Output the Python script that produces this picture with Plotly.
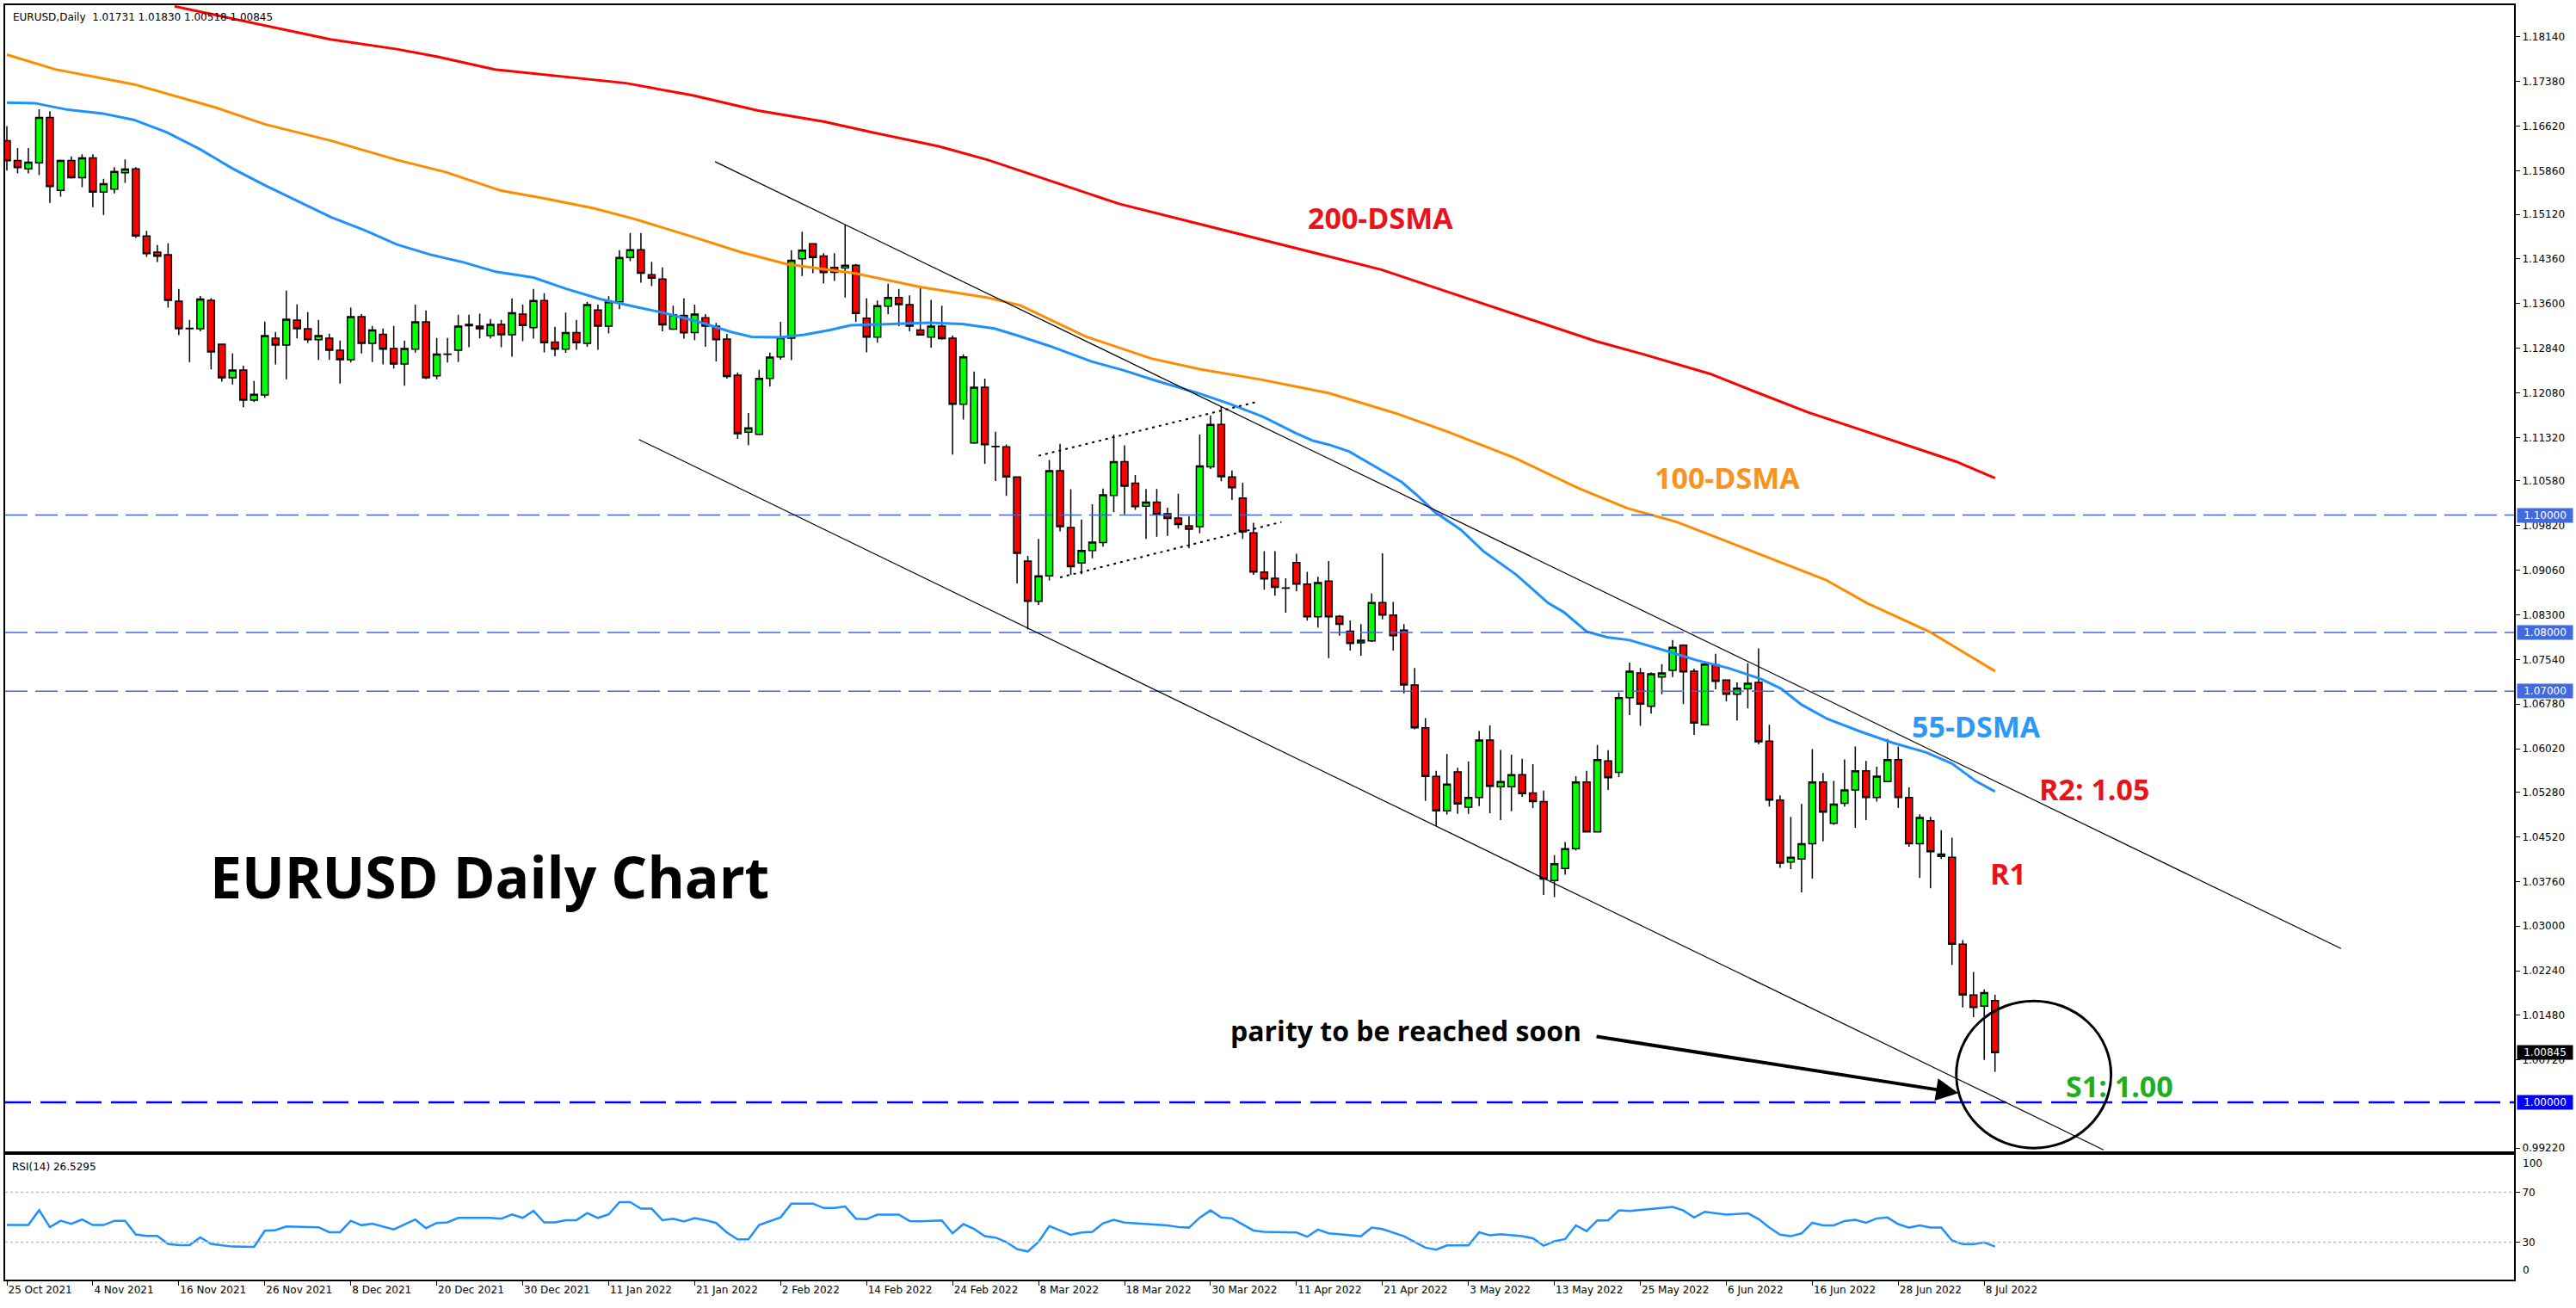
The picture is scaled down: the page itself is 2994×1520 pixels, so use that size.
import plotly.graph_objects as go

# ---------------- data ----------------
opens = [1.16373, 1.16037, 1.15895, 1.15998, 1.16769, 1.15529, 1.16037, 1.15744, 1.16081, 1.15500,
         1.15549, 1.15827, 1.15895, 1.14753, 1.14475, 1.14431, 1.13640, 1.13172, 1.13172, 1.13655,
         1.12908, 1.12337, 1.12469, 1.11956, 1.12044, 1.13011, 1.12893, 1.13318, 1.13172, 1.12986,
         1.13011, 1.12806, 1.12645, 1.13377, 1.12923, 1.13079, 1.12835, 1.12571, 1.12825, 1.13289,
         1.12371, 1.12737, 1.12806, 1.13225, 1.13216, 1.13054, 1.13245, 1.13069, 1.13420, 1.13190,
         1.13654, 1.12946, 1.12824, 1.13107, 1.12922, 1.13493, 1.13215, 1.13630, 1.14386, 1.14518,
         1.14093, 1.14020, 1.13166, 1.13400, 1.13107, 1.13361, 1.13215, 1.12995, 1.12380, 1.11409,
         1.11374, 1.12326, 1.12692, 1.13010, 1.14362, 1.14620, 1.14411, 1.14215, 1.14206, 1.14254,
         1.13351, 1.13029, 1.13556, 1.13703, 1.13581, 1.13151, 1.13029, 1.13215, 1.13010, 1.11887,
         1.11228, 1.12175, 1.11165, 1.11161, 1.10649, 1.09216, 1.08531, 1.08965, 1.10753, 1.09786,
         1.09185, 1.09394, 1.09530, 1.10335, 1.10910, 1.10544, 1.10152, 1.10220, 1.10021, 1.09948,
         1.09817, 1.09802, 1.10821, 1.11543, 1.10649, 1.10288, 1.09697, 1.09028, 1.08922, 1.08756,
         1.09190, 1.08824, 1.08269, 1.08876, 1.08274, 1.08023, 1.07825, 1.07856, 1.08510, 1.08295,
         1.08039, 1.07108, 1.06376, 1.05550, 1.04964, 1.05628, 1.05027, 1.05189, 1.06167, 1.05372,
         1.05374, 1.05580, 1.05266, 1.05119, 1.03776, 1.03982, 1.04318, 1.05455, 1.04605, 1.05813,
         1.05618, 1.06891, 1.07313, 1.06744, 1.07243, 1.07357, 1.07785, 1.07340, 1.06430, 1.07449,
         1.07189, 1.06950, 1.07042, 1.07151, 1.06149, 1.05146, 1.04090, 1.04144, 1.04404, 1.05455,
         1.04751, 1.05092, 1.05320, 1.05645, 1.05190, 1.05461, 1.05834, 1.05190, 1.04404, 1.04794,
         1.04188, 1.04171, 1.02693, 1.01826, 1.01636, 1.01731]

highs = [1.16622, 1.16251, 1.16251, 1.16910, 1.16876, 1.16051, 1.16105, 1.16144, 1.16144, 1.15724,
         1.15924, 1.16056, 1.15924, 1.14841, 1.14597, 1.14626, 1.13850, 1.13323, 1.13728, 1.13694,
         1.12908, 1.12752, 1.12542, 1.12283, 1.13294, 1.13118, 1.13821, 1.13587, 1.13455, 1.13323,
         1.13089, 1.12971, 1.13533, 1.13421, 1.13220, 1.13177, 1.13220, 1.12971, 1.13582, 1.13484,
         1.13015, 1.13015, 1.13411, 1.13411, 1.13430, 1.13337, 1.13323, 1.13689, 1.13581, 1.13849,
         1.13776, 1.13205, 1.13449, 1.13322, 1.13630, 1.13581, 1.13727, 1.14508, 1.14801, 1.14801,
         1.14313, 1.14215, 1.13566, 1.13688, 1.13581, 1.13420, 1.13273, 1.13083, 1.12424, 1.11736,
         1.12473, 1.12766, 1.13288, 1.14508, 1.14825, 1.14630, 1.14459, 1.14459, 1.14947, 1.14274,
         1.13688, 1.13654, 1.13937, 1.13849, 1.13742, 1.13898, 1.13664, 1.13566, 1.13054, 1.12736,
         1.12443, 1.12321, 1.11418, 1.11203, 1.10660, 1.09305, 1.09592, 1.10937, 1.11214, 1.10440,
         1.09922, 1.10183, 1.10450, 1.11371, 1.11188, 1.10680, 1.10445, 1.10445, 1.10126, 1.10361,
         1.09979, 1.11371, 1.11695, 1.11852, 1.10759, 1.10550, 1.09870, 1.09383, 1.09383, 1.08922,
         1.09341, 1.09033, 1.08949, 1.09216, 1.08295, 1.08207, 1.08144, 1.08667, 1.09347, 1.08520,
         1.08144, 1.07396, 1.06543, 1.05644, 1.05931, 1.05696, 1.05801, 1.06324, 1.06418, 1.06000,
         1.05921, 1.05851, 1.05759, 1.05309, 1.04209, 1.04431, 1.05553, 1.05645, 1.06084, 1.05997,
         1.06977, 1.07487, 1.07395, 1.07324, 1.07460, 1.07871, 1.07800, 1.07384, 1.07476, 1.07638,
         1.07200, 1.07151, 1.07476, 1.07730, 1.06430, 1.05228, 1.04860, 1.05081, 1.06013, 1.05607,
         1.05472, 1.05840, 1.06057, 1.05813, 1.05715, 1.06187, 1.06057, 1.05363, 1.04903, 1.04860,
         1.04632, 1.04507, 1.02763, 1.02221, 1.01923, 1.01830]

lows = [1.15866, 1.15817, 1.15817, 1.15788, 1.15314, 1.15422, 1.15729, 1.15583, 1.15241, 1.15109,
        1.15475, 1.15656, 1.14719, 1.14397, 1.14309, 1.13533, 1.13064, 1.12605, 1.13128, 1.12479,
        1.12273, 1.12225, 1.11834, 1.11922, 1.11995, 1.12566, 1.12313, 1.13006, 1.12932, 1.12640,
        1.12640, 1.12239, 1.12596, 1.12752, 1.12605, 1.12566, 1.12493, 1.12200, 1.12766, 1.12317,
        1.12313, 1.12596, 1.12605, 1.12859, 1.13006, 1.13006, 1.12859, 1.12698, 1.12961, 1.13005,
        1.12771, 1.12702, 1.12761, 1.12814, 1.12863, 1.12814, 1.13093, 1.13507, 1.14323, 1.13957,
        1.13898, 1.13127, 1.13150, 1.13005, 1.12980, 1.12863, 1.12614, 1.12321, 1.11296, 1.11189,
        1.11360, 1.12190, 1.12644, 1.12639, 1.14069, 1.14118, 1.13947, 1.13986, 1.13703, 1.13288,
        1.12771, 1.12936, 1.13420, 1.13215, 1.13127, 1.13058, 1.12849, 1.12985, 1.11028, 1.11628,
        1.11213, 1.10872, 1.10580, 1.10325, 1.08834, 1.08050, 1.08468, 1.08886, 1.09723, 1.08980,
        1.08991, 1.09263, 1.09462, 1.10047, 1.10011, 1.10089, 1.09592, 1.09629, 1.09645, 1.09770,
        1.09436, 1.09687, 1.10785, 1.10576, 1.10257, 1.09592, 1.08980, 1.08730, 1.08625, 1.08337,
        1.08703, 1.08201, 1.08086, 1.07563, 1.07945, 1.07694, 1.07605, 1.07840, 1.08222, 1.07694,
        1.06962, 1.06350, 1.05131, 1.04702, 1.04901, 1.04912, 1.04912, 1.05042, 1.04922, 1.04807,
        1.04957, 1.05200, 1.05011, 1.03532, 1.03494, 1.03874, 1.04291, 1.04594, 1.04594, 1.05320,
        1.05537, 1.06593, 1.06409, 1.06620, 1.06950, 1.07243, 1.06782, 1.06257, 1.06420, 1.07032,
        1.06826, 1.06501, 1.06707, 1.06094, 1.05038, 1.03993, 1.03971, 1.03576, 1.03808, 1.04442,
        1.04724, 1.05038, 1.04675, 1.04805, 1.05119, 1.05450, 1.05011, 1.04350, 1.03819, 1.03646,
        1.04144, 1.02341, 1.01615, 1.01452, 1.00721, 1.00518]

closes = [1.16032, 1.15915, 1.16007, 1.16769, 1.15593, 1.16037, 1.15744, 1.16081, 1.15500, 1.15641,
          1.15851, 1.15890, 1.14753, 1.14450, 1.14407, 1.13655, 1.13172, 1.13180, 1.13679, 1.12776,
          1.12337, 1.12469, 1.11956, 1.12054, 1.13054, 1.12893, 1.13333, 1.13172, 1.12986, 1.13054,
          1.12806, 1.12645, 1.13377, 1.12923, 1.13152, 1.12825, 1.12571, 1.12835, 1.13289, 1.12337,
          1.12742, 1.12742, 1.13216, 1.13245, 1.13172, 1.13245, 1.13069, 1.13445, 1.13229, 1.13654,
          1.12936, 1.12824, 1.13107, 1.12936, 1.13581, 1.13215, 1.13630, 1.14386, 1.14518, 1.14118,
          1.14035, 1.13239, 1.13410, 1.13102, 1.13420, 1.13215, 1.12985, 1.12360, 1.11384, 1.11482,
          1.12326, 1.12688, 1.13019, 1.14337, 1.14508, 1.14386, 1.14127, 1.14132, 1.14254, 1.13434,
          1.13029, 1.13566, 1.13703, 1.13581, 1.13215, 1.13068, 1.13215, 1.13005, 1.11887, 1.12692,
          1.12175, 1.11199, 1.11170, 1.10649, 1.09347, 1.08531, 1.08965, 1.10753, 1.09802, 1.09122,
          1.09394, 1.09540, 1.10346, 1.10910, 1.10492, 1.10142, 1.10220, 1.10011, 1.09943, 1.09838,
          1.09760, 1.10837, 1.11543, 1.10654, 1.10466, 1.09713, 1.09028, 1.08913, 1.08771, 1.08760,
          1.08824, 1.08269, 1.08850, 1.08269, 1.08139, 1.07814, 1.07867, 1.08510, 1.08295, 1.07945,
          1.07108, 1.06376, 1.05550, 1.04964, 1.05419, 1.05079, 1.05189, 1.06167, 1.05382, 1.05461,
          1.05580, 1.05255, 1.05119, 1.03803, 1.04063, 1.04318, 1.05455, 1.04605, 1.05834, 1.05526,
          1.06891, 1.07340, 1.06782, 1.07297, 1.07313, 1.07747, 1.07330, 1.06457, 1.07460, 1.07167,
          1.06950, 1.07053, 1.07135, 1.06138, 1.05146, 1.04074, 1.04171, 1.04404, 1.05455, 1.04941,
          1.05076, 1.05320, 1.05645, 1.05190, 1.05553, 1.05834, 1.05190, 1.04404, 1.04849, 1.04269,
          1.04226, 1.02693, 1.01826, 1.01615, 1.01869, 1.00845]

# moving averages: (bar number, value) vertices
ma200_bar = [15.6, 24.0, 30.1, 36.3, 40.1, 45.4, 53.1, 57.6, 63.8, 69.9, 76.0, 80.6, 86.7, 91.3,
             97.4, 103.5, 109.6, 115.7, 121.8, 127.9, 134.0, 138.6, 143.2, 147.8, 152.4, 158.5,
             163.0, 167.6, 172.2, 176.8, 181.4, 185]
ma200_val = [1.18662, 1.18335, 1.18101, 1.17933, 1.17802, 1.17588, 1.17447, 1.17354, 1.17148,
             1.16887, 1.16700, 1.16513, 1.16280, 1.16046, 1.15673, 1.15299, 1.15019, 1.14739,
             1.14459, 1.14178, 1.13805, 1.13525, 1.13244, 1.12964, 1.12731, 1.12404, 1.12077,
             1.11750, 1.11470, 1.11190, 1.10909, 1.10629]

ma100_bar = [0, 4.5, 11.8, 19.5, 24.0, 30.2, 36.3, 40.8, 46.0, 50.0, 54.6, 58.3, 63.8, 68.3, 72.6,
             79.0, 85.1, 91.3, 94.3, 100.4, 106.5, 111.1, 116.6, 123.0, 129.1, 134.0, 140.4,
             146.2, 150.8, 155.4, 160.0, 164.6, 169.2, 173.1, 178.9, 185]
ma100_val = [1.17840, 1.17588, 1.17335, 1.16934, 1.16654, 1.16373, 1.16046, 1.15841, 1.15523,
             1.15393, 1.15224, 1.15047, 1.14739, 1.14477, 1.14272, 1.14113, 1.13880, 1.13700,
             1.13571, 1.13039, 1.12665, 1.12479, 1.12310, 1.12077, 1.11741, 1.11423, 1.10965,
             1.10461, 1.10115, 1.09882, 1.09555, 1.09228, 1.08901, 1.08500, 1.08014, 1.07342]

ma55_bar = [0, 2.6, 5.7, 8.8, 11.8, 14.9, 18.0, 21.0, 24.1, 27.1, 30.2, 33.3, 36.3, 39.4, 42.5,
            45.5, 49.0, 52.1, 55.2, 58.2, 61.3, 64.4, 67.4, 69.3, 72.0, 74.2, 76.6, 78.5, 82.7,
            85.8, 88.9, 91.9, 94.0, 97.0, 101.0, 104.0, 106.5, 110.8, 113.8, 116.9, 119.9, 121.5,
            123.0, 124.9, 127.6, 129.8, 131.3, 132.8, 135.3, 137.4, 140.4, 143.4, 144.9, 147.0,
            148.9, 151.0, 154.1, 157.2, 160.2, 163.3, 165.1, 167.0, 169.4, 172.5, 175.5, 178.6,
            181.0, 183.2, 185.0]
ma55_val = [1.17023, 1.17013, 1.16900, 1.16841, 1.16730, 1.16515, 1.16226, 1.15900, 1.15607,
            1.15343, 1.15069, 1.14849, 1.14607, 1.14435, 1.14303, 1.14142, 1.14044, 1.13849,
            1.13678, 1.13557, 1.13435, 1.13289, 1.13117, 1.13034, 1.13025, 1.13069, 1.13151,
            1.13230, 1.13254, 1.13274, 1.13254, 1.13176, 1.13059, 1.12880, 1.12610, 1.12460,
            1.12312, 1.12078, 1.11893, 1.11673, 1.11397, 1.11267, 1.11199, 1.11082, 1.10795,
            1.10560, 1.10325, 1.10063, 1.09749, 1.09383, 1.08991, 1.08505, 1.08343, 1.08017,
            1.07920, 1.07870, 1.07703, 1.07529, 1.07394, 1.07204, 1.07042, 1.06771, 1.06528,
            1.06311, 1.06121, 1.05958, 1.05769, 1.05471, 1.05292]

rsi_bar = [0, 2, 3, 4, 5, 6, 7, 8, 9, 10,
           11, 12, 13, 14, 15, 16, 17, 18, 19, 20,
           21, 23, 24, 25, 26, 29, 30, 31, 32, 33,
           34, 36, 38, 39, 40, 41, 42, 45, 46, 47,
           48, 49, 50, 51, 52, 53, 54, 55, 56, 57,
           58, 59, 60, 61, 62, 63, 64, 65, 66, 67,
           68, 69, 70, 72, 73, 75, 76, 77, 78, 79,
           80, 81, 83, 84, 85, 87, 88, 89, 90, 91,
           92, 93, 94, 95, 96, 97, 99, 100, 101, 102,
           103, 104, 106, 108, 109, 110, 111, 112, 113, 114,
           116, 117, 120, 121, 122, 123, 124, 126, 127, 128,
           130, 131, 132, 133, 134, 136, 137, 138, 139, 141,
           142, 143, 144, 145, 146, 147, 148, 149, 150, 151,
           153, 155, 156, 157, 158, 160, 162, 163, 164, 165,
           166, 167, 168, 169, 170, 171, 172, 173, 174, 175,
           176, 177, 178, 179, 180, 181, 182, 183, 184, 185]
rsi_val = [43.8, 43.8, 55.7, 42.0, 47.2, 44.7, 48.2, 43.8, 43.8, 47.2,
           47.2, 36.2, 35.1, 35.1, 28.6, 27.7, 27.7, 33.9, 28.6, 27.7,
           26.5, 26.3, 39.2, 39.7, 42.6, 42.0, 38.0, 38.0, 47.2, 43.6,
           44.9, 40.3, 48.2, 41.3, 45.4, 45.9, 49.5, 49.5, 48.9, 52.3,
           49.5, 55.1, 45.9, 45.9, 47.7, 47.7, 53.4, 49.5, 52.3, 62.2,
           62.2, 56.9, 56.9, 47.7, 48.9, 46.6, 49.3, 47.7, 45.4, 37.8,
           32.3, 32.3, 43.8, 50.0, 61.0, 61.0, 57.4, 57.4, 58.7, 48.9,
           48.5, 52.1, 52.1, 47.0, 46.8, 47.5, 37.1, 44.5, 40.6, 34.8,
           33.7, 30.2, 24.5, 22.6, 30.2, 42.9, 36.0, 37.8, 38.3, 45.2,
           47.9, 45.8, 44.5, 43.5, 42.2, 41.7, 49.8, 55.5, 49.8, 49.1,
           39.4, 38.3, 37.8, 34.4, 40.1, 37.1, 36.4, 34.8, 41.7, 40.6,
           34.8, 30.2, 25.6, 24.0, 27.4, 27.4, 38.0, 35.5, 36.4, 34.8,
           33.2, 27.2, 30.7, 32.5, 43.5, 38.9, 47.5, 47.5, 55.5, 55.0,
           56.7, 58.3, 55.5, 49.8, 54.4, 52.1, 53.2, 48.6, 41.7, 36.0,
           34.8, 37.1, 45.6, 43.5, 43.5, 47.0, 47.9, 45.6, 49.1, 49.8,
           44.5, 41.7, 43.5, 41.7, 41.7, 31.4, 28.4, 28.4, 29.8, 26.5]

date_tick_bars = [0, 8, 16, 24, 32, 40, 48, 56, 64, 72, 80, 88, 96, 104, 112, 120, 128, 136,
                  144, 152, 160, 168, 176, 184]
date_tick_labels = ["25 Oct 2021", "4 Nov 2021", "16 Nov 2021", "26 Nov 2021", "8 Dec 2021",
                    "20 Dec 2021", "30 Dec 2021", "11 Jan 2022", "21 Jan 2022", "2 Feb 2022",
                    "14 Feb 2022", "24 Feb 2022", "8 Mar 2022", "18 Mar 2022", "30 Mar 2022",
                    "11 Apr 2022", "21 Apr 2022", "3 May 2022", "13 May 2022", "25 May 2022",
                    "6 Jun 2022", "16 Jun 2022", "28 Jun 2022", "8 Jul 2022"]

price_ticks = [1.18140, 1.17380, 1.16620, 1.15860, 1.15120, 1.14360, 1.13600, 1.12840, 1.12080,
               1.11320, 1.10580, 1.09820, 1.09060, 1.08300, 1.07540, 1.06780, 1.06020, 1.05280,
               1.04520, 1.03760, 1.03000, 1.02240, 1.01480, 1.00720, 0.99220]
rsi_ticks = [30, 70]
rsi_edge_labels = ["100", "0"]

level_lines = [1.10, 1.08, 1.07]
parity_level = 1.00
rsi_levels = [70, 30]

# trend-line anchors (bar number, price)
upper_channel = [(65.9, 1.16017), (217.2, 1.02618)]
lower_channel = [(58.8, 1.11287), (195.1, 0.99191)]
flag_upper = [(96.0, 1.11009), (116.5, 1.11936)]
flag_lower = [(98.0, 1.08938), (118.6, 1.09881)]

last_open, last_high, last_low, last_close = 1.01731, 1.01830, 1.00518, 1.00845
last_rsi = "26.5295"

# ---------------- figure ----------------
bars = list(range(len(opens)))
X_RANGE = [-0.16, 233.3]
Y_RANGE = [0.99162, 1.18682]

fig = go.Figure()
fig.add_trace(go.Candlestick(
    x=bars, open=opens, high=highs, low=lows, close=closes,
    increasing=dict(fillcolor="#00FF00", line=dict(color="black", width=1.5)),
    decreasing=dict(fillcolor="#FF0000", line=dict(color="black", width=1.5)),
    whiskerwidth=0, showlegend=False, hoverinfo="skip", xaxis="x", yaxis="y"))

fig.add_trace(go.Scatter(x=ma200_bar, y=ma200_val, mode="lines",
                         line=dict(color="#FF0000", width=3), xaxis="x", yaxis="y", hoverinfo="skip"))
fig.add_trace(go.Scatter(x=ma100_bar, y=ma100_val, mode="lines",
                         line=dict(color="#FF8C00", width=3), xaxis="x", yaxis="y", hoverinfo="skip"))
fig.add_trace(go.Scatter(x=ma55_bar, y=ma55_val, mode="lines",
                         line=dict(color="#1E90FF", width=3), xaxis="x", yaxis="y", hoverinfo="skip"))
fig.add_trace(go.Scatter(x=rsi_bar, y=rsi_val, mode="lines",
                         line=dict(color="#1E90FF", width=2.5), xaxis="x2", yaxis="y2", hoverinfo="skip"))

axis_font = dict(family="DejaVu Sans", size=12, color="black")
common_x = dict(range=X_RANGE, showgrid=False, zeroline=False, showline=True, mirror=True,
                linecolor="black", linewidth=2)
fig.update_layout(
    width=2994, height=1520, autosize=False,
    margin=dict(l=4, r=72, t=5, b=33),
    paper_bgcolor="white", plot_bgcolor="white", showlegend=False,
    boxgap=0.36, boxgroupgap=0,
    xaxis=dict(domain=[0, 1], anchor="y", showticklabels=False, ticks="",
               rangeslider=dict(visible=False), **common_x),
    xaxis2=dict(domain=[0, 1], anchor="y2", matches="x", tickvals=date_tick_bars,
                ticktext=date_tick_labels, ticks="outside", ticklen=5, tickcolor="black",
                ticklabelposition="outside right", tickfont=axis_font, **common_x),
    yaxis=dict(domain=[0.1005, 1], anchor="x", side="right", range=Y_RANGE,
               tickvals=price_ticks, ticktext=[f"{v:.5f}" for v in price_ticks],
               ticks="outside", ticklen=5, tickcolor="black", tickfont=axis_font,
               showgrid=False, zeroline=False, showline=True, mirror=True,
               linecolor="black", linewidth=2),
    yaxis2=dict(domain=[0, 0.0978], anchor="x2", side="right", range=[0, 100],
                tickvals=rsi_ticks, ticktext=[str(v) for v in rsi_ticks],
                ticks="outside", ticklen=5, tickcolor="black", tickfont=axis_font,
                showgrid=False, zeroline=False, showline=True, mirror=True,
                linecolor="black", linewidth=2),
)

shapes = []
for lv in level_lines:
    shapes.append(dict(type="line", xref="paper", x0=0, x1=1, yref="y", y0=lv, y1=lv,
                       line=dict(color="#3F66E0", width=1.4, dash="26px,9px")))
shapes.append(dict(type="line", xref="paper", x0=0, x1=1, yref="y", y0=parity_level, y1=parity_level,
                   line=dict(color="#0000FF", width=2.5, dash="30px,11px")))
for lv in rsi_levels:
    shapes.append(dict(type="line", xref="paper", x0=0, x1=1, yref="y2", y0=lv, y1=lv,
                       line=dict(color="#C0C0C0", width=1.5, dash="3px,3px")))
for (p0, p1), dash, w in [(upper_channel, "solid", 1.2), (lower_channel, "solid", 1.2),
                          (flag_upper, "3px,5px", 2), (flag_lower, "3px,5px", 2)]:
    shapes.append(dict(type="line", xref="x", yref="y", x0=p0[0], y0=p0[1], x1=p1[0], y1=p1[1],
                       line=dict(color="black", width=w, dash=dash)))
shapes.append(dict(type="circle", xref="x", yref="y", x0=181.4, x1=195.8, y0=0.99221, y1=1.01725,
                   line=dict(color="black", width=3)))
fig.update_layout(shapes=shapes)

bold_font = "Open Sans"
ann = []

def label(text, x, y, color, size=34):
    ann.append(dict(text=f"<b>{text}</b>", x=x, y=y, xref="x", yref="y", showarrow=False,
                    font=dict(family=bold_font, size=size, color=color),
                    xanchor="center", yanchor="middle"))

label("200-DSMA", 127.8, 1.15065, "#E8141C")
label("100-DSMA", 160.1, 1.10643, "#F7931E")
label("55-DSMA", 183.3, 1.06396, "#2C9AF5")
label("R2: 1.05", 194.2, 1.05334, "#E8141C")
label("R1", 186.2, 1.03892, "#E8141C")
label("S1: 1.00", 196.6, 1.00275, "#1DAF1D")
label("parity to be reached soon", 130.2, 1.01227, "black", size=32)
label("EURUSD Daily Chart", 44.9, 1.03848, "black", size=66)

ann.append(dict(x=181.6, y=1.00158, xref="x", yref="y", ax=147.8, ay=1.01124, axref="x", ayref="y",
                text="", showarrow=True, arrowhead=2, arrowsize=1.3, arrowwidth=4,
                arrowcolor="black"))

# right-hand price boxes
for lv, bg in [(1.10, "#4169E1"), (1.08, "#4169E1"), (1.07, "#4169E1"),
               (parity_level, "#0000FF"), (last_close, "black")]:
    ann.append(dict(text=f"{lv:.5f}", x=1, y=lv, xref="paper", yref="y", showarrow=False,
                    xanchor="left", yanchor="middle", xshift=3, width=62, align="center",
                    bgcolor=bg, borderpad=1,
                    font=dict(family="DejaVu Sans", size=12, color="white")))

# RSI scale end labels, kept inside the sub-window as in the reference
for txt, yv, anchor in [(rsi_edge_labels[0], 100, "top"), (rsi_edge_labels[1], 0, "bottom")]:
    ann.append(dict(text=txt, x=1, y=yv, xref="paper", yref="y2", showarrow=False,
                    xanchor="left", yanchor=anchor, xshift=8, yshift=(-1 if anchor == "top" else 2),
                    font=axis_font))

ann.append(dict(text=f"EURUSD,Daily  {last_open:.5f} {last_high:.5f} {last_low:.5f} {last_close:.5f}",
                x=0, y=1, xref="paper", yref="paper", xanchor="left", yanchor="top",
                xshift=7, yshift=-5, showarrow=False,
                font=dict(family="DejaVu Sans", size=12, color="black")))
ann.append(dict(text=f"RSI(14) {last_rsi}", x=0, y=0.0978, xref="paper", yref="paper",
                xanchor="left", yanchor="top", xshift=6, yshift=-5, showarrow=False,
                font=dict(family="DejaVu Sans", size=12, color="black")))
fig.update_layout(annotations=ann)

fig.write_html("out.html")
